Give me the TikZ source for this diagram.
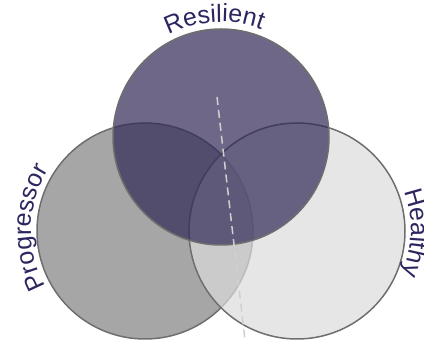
\documentclass[tikz,border=0pt]{standalone}
\usepackage{fontspec}
\setmainfont{Liberation Sans}
\usepackage{xcolor}
\usepackage{tikz}

\definecolor{resfill}{HTML}{302756}
\definecolor{progfill}{HTML}{808080}
\definecolor{healfill}{HTML}{DCDCDC}
\definecolor{ringline}{HTML}{6E6E6E}
\definecolor{labeltext}{HTML}{2B2660}
\definecolor{splitline}{HTML}{D0D0D0}

\begin{document}
\begin{tikzpicture}[x=1pt, y=1pt,
    ring/.style={draw=ringline, line width=1.5pt, circle, minimum size=216pt, inner sep=0pt, fill opacity=0.7},
    arcletter/.style={anchor=base, inner sep=0pt, text=labeltext, font=\fontsize{25}{25}\selectfont}]
    \useasboundingbox (0,0) rectangle (424,342);

    \node[ring, fill=progfill] (prog) at (145,111) {};
    \node[ring, fill=healfill] (heal) at (297,111) {};
    \node[ring, fill=resfill] (res) at (221,205) {};

    \coordinate (splittop) at (217,245);
    \coordinate (splitbot) at (245,2);
    \draw[splitline, line width=1.5pt, dash pattern=on 8pt off 5pt] (splittop) -- (splitbot);

    % labels set letter by letter round the rings
    \foreach \ch/\ang in {R/112.68, e/104.72, s/98.15, i/93.65, l/90.88, i/88.11, e/83.27, n/76.35, t/71.16}
        \path (res.center) ++(\ang:115) node[arcletter, rotate=\ang-90] {\ch};
    \foreach \ch/\ang in {P/204.79, r/198.50, o/192.92, g/185.93, r/180.34, e/174.76, s/168.13, s/161.84, o/155.21, r/149.62}
        \path (prog.center) ++(\ang:114) node[arcletter, rotate=\ang-90] {\ch};
    \foreach \ch/\ang in {H/15.76, e/7.74, a/0.75, l/-4.14, t/-7.28, h/-12.52, y/-19.15}
        \path (heal.center) ++(\ang:114) node[arcletter, rotate=\ang-90] {\ch};
\end{tikzpicture}
\end{document}
